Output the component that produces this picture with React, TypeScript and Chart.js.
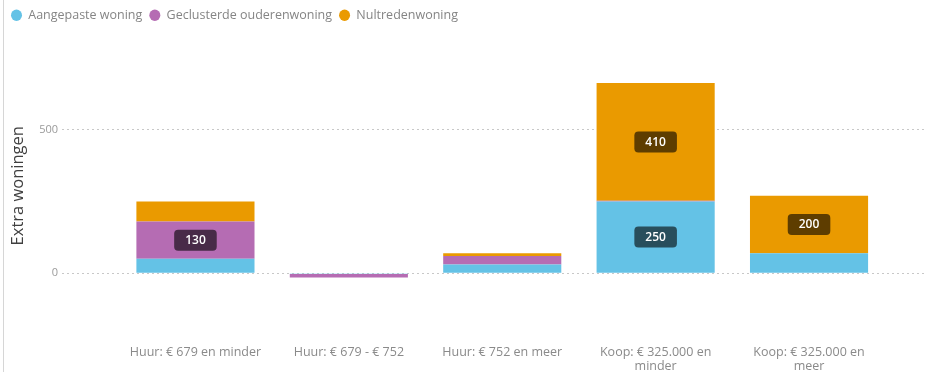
import React, { useEffect, useRef } from "react";
import { Chart, registerables } from "chart.js";

Chart.register(...registerables);

// ---- data ----
const categories = [
  "Huur: € 679 en minder",
  "Huur: € 679 - € 752",
  "Huur: € 752 en meer",
  "Koop: € 325.000 en minder",
  "Koop: € 325.000 en meer",
];
const seriesNames = ["Aangepaste woning", "Geclusterde ouderenwoning", "Nultredenwoning"];
const aangepasteWoning = [50, -3, 30, 250, 70];
const geclusterdeOuderenwoning = [130, -12, 30, 3, 0];
const nultredenwoning = [70, 0, 10, 410, 200];
const yTickValues = [0, 500];
const yAxisTitle = "Extra woningen";
const labelThreshold = 100;

const seriesColors = ["#64C2E6", "#B56CB3", "#EA9A00"];
const FONT = '"Open Sans", "DejaVu Sans", sans-serif';

const measureCtx = (() => {
  const c = document.createElement("canvas");
  return c.getContext("2d") as CanvasRenderingContext2D;
})();

function wrapLabel(text: string, maxWidth: number, font: string): string[] {
  measureCtx.font = font;
  const words = text.split(" ");
  const lines: string[] = [];
  let cur = "";
  for (const w of words) {
    const test = cur ? cur + " " + w : w;
    if (cur && measureCtx.measureText(test).width > maxWidth) {
      lines.push(cur);
      cur = w;
    } else {
      cur = test;
    }
  }
  if (cur) lines.push(cur);
  return lines;
}

const boxLabelPlugin = {
  id: "boxLabels",
  afterDatasetsDraw(chart: any) {
    const ctx: CanvasRenderingContext2D = chart.ctx;
    chart.data.datasets.forEach((ds: any, di: number) => {
      const meta = chart.getDatasetMeta(di);
      if (meta.hidden) return;
      meta.data.forEach((el: any, i: number) => {
        const v = ds.data[i].y;
        if (Math.abs(v) < labelThreshold) return;
        const { x, y, base } = el.getProps(["x", "y", "base"], true);
        const cy = (y + base) / 2;
        const text = String(v);
        ctx.save();
        ctx.font = `600 12px ${FONT}`;
        const w = ctx.measureText(text).width + 22;
        const h = 21;
        ctx.fillStyle = "rgba(0,0,0,0.6)";
        ctx.beginPath();
        (ctx as any).roundRect(x - w / 2, cy - h / 2, w, h, 4);
        ctx.fill();
        ctx.fillStyle = "#ffffff";
        ctx.textAlign = "center";
        ctx.textBaseline = "middle";
        ctx.fillText(text, x, cy + 0.5);
        ctx.restore();
      });
    });
  },
};

export default function App() {
  const canvasRef = useRef<HTMLCanvasElement | null>(null);

  useEffect(() => {
    if (!canvasRef.current) return;
    const series = [aangepasteWoning, geclusterdeOuderenwoning, nultredenwoning];
    const chart = new Chart(canvasRef.current, {
      type: "bar",
      data: {
        datasets: series.map((vals, si) => ({
          label: seriesNames[si],
          data: vals.map((v, i) => ({ x: i, y: v })),
          backgroundColor: seriesColors[si],
          borderWidth: 0,
          categoryPercentage: 1,
          barPercentage: 0.77,
        })),
      },
      options: {
        responsive: false,
        animation: false,
        layout: { padding: { left: 4, right: 2, top: 2, bottom: 0 } },
        plugins: {
          tooltip: { enabled: false },
          legend: {
            display: true,
            position: "top",
            align: "start",
            labels: {
              usePointStyle: true,
              pointStyle: "circle",
              boxHeight: 8,
              pointStyleWidth: 11,
              padding: 7,
              color: "#858585",
              font: { family: FONT, size: 12.5 },
            },
          },
        },
        scales: {
          x: {
            type: "linear",
            stacked: true,
            offset: false,
            min: -0.87,
            max: 4.756,
            grid: { display: false, drawTicks: false },
            border: { display: false },
            afterBuildTicks: (axis: any) => {
              axis.ticks = categories.map((_, i) => ({ value: i }));
            },
            afterFit: (scale: any) => {
              scale.height = 32;
            },
            ticks: {
              autoSkip: false,
              maxRotation: 0,
              minRotation: 0,
              padding: 5,
              color: "#8a8a8a",
              font: { family: FONT, size: 12.5, lineHeight: 1.15 },
              callback: (value: any) => {
                const label = categories[Math.round(Number(value))];
                if (label === undefined) return "";
                return wrapLabel(label, 138, `12.5px ${FONT}`);
              },
            },
          },
          y: {
            type: "linear",
            stacked: true,
            min: -233,
            max: 843,
            afterBuildTicks: (axis: any) => {
              axis.ticks = yTickValues.map((v) => ({ value: v }));
            },
            afterFit: (scale: any) => {
              scale.width = 58;
            },
            grid: { color: "#c8c8c8", lineWidth: 1, drawTicks: false },
            border: { display: false, dash: [2, 3] },
            ticks: {
              padding: 4,
              color: "#9a9a9a",
              font: { family: FONT, size: 11 },
            },
            title: {
              display: true,
              text: yAxisTitle,
              color: "#404040",
              font: { family: FONT, size: 16.5 },
              padding: { top: 4, bottom: 0 },
            },
          },
        },
      },
      plugins: [boxLabelPlugin],
    });
    return () => chart.destroy();
  }, []);

  return (
    <div
      style={{
        position: "fixed",
        left: 0,
        top: 0,
        width: 927,
        height: 372,
        background: "#ffffff",
        overflow: "hidden",
      }}
    >
      <div
        style={{
          position: "absolute",
          left: 3,
          top: 0,
          width: 1,
          height: 372,
          background: "#d6d6d6",
        }}
      />
      <canvas
        ref={canvasRef}
        width={927}
        height={372}
        style={{ display: "block", width: 927, height: 372 }}
      />
    </div>
  );
}
